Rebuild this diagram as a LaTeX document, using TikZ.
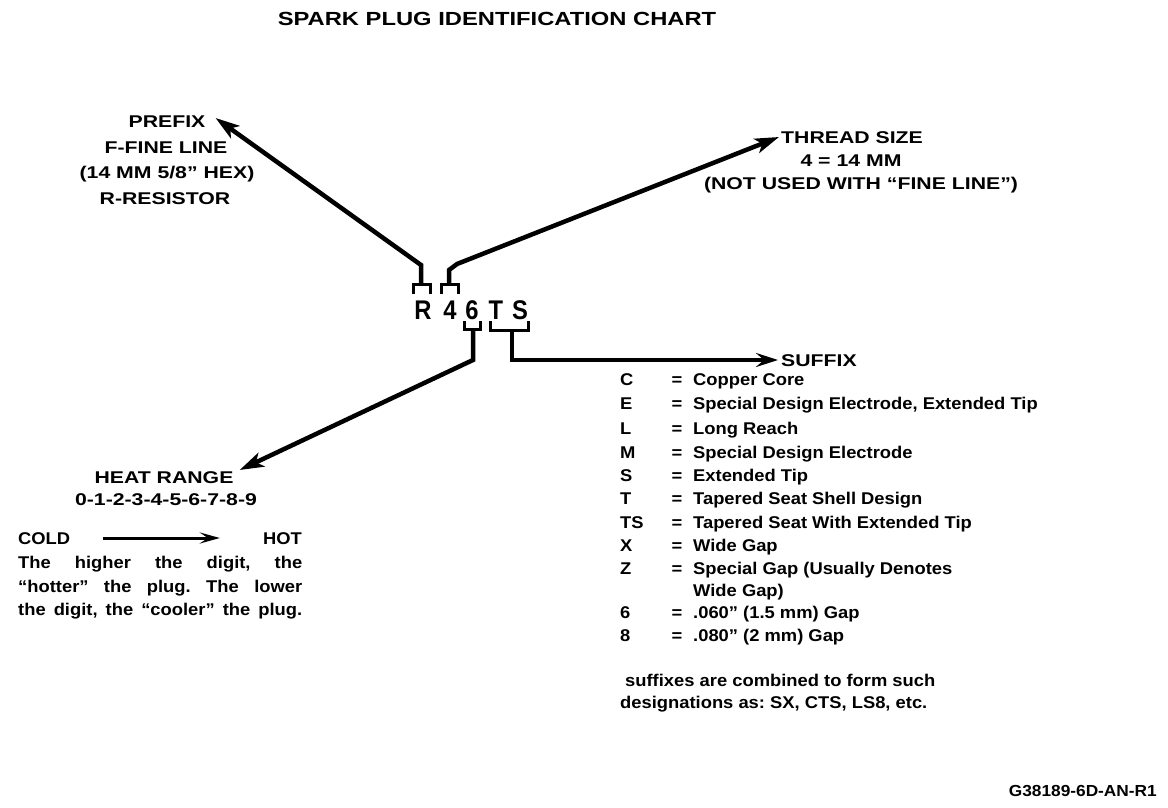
\documentclass[tikz,border=0pt]{standalone}
\usepackage{fontspec}
\setmainfont{Liberation Sans}[FakeStretch=1.08]
\newfontfamily\widefont{Liberation Sans}[FakeStretch=1.25,Ligatures=TeX]
\newfontfamily\codefont{Liberation Sans}[FakeStretch=0.88]
\usetikzlibrary{arrows.meta}
\tikzset{plugchart/.style={x=1pt,y=-1pt,inner sep=0pt},
  ttl/.style={font=\widefont\bfseries\fontsize{19}{21}\selectfont,text height=13.6pt,text depth=0pt},
  head/.style={font=\widefont\bfseries\fontsize{17}{20}\selectfont,text height=12.2pt,text depth=0pt},
  tab/.style={font=\bfseries\fontsize{17}{20}\selectfont,text height=12.2pt,text depth=0pt},
  code/.style={font=\codefont\bfseries\fontsize{27}{30}\selectfont,text height=19.4pt,text depth=0pt},
  bigarrow/.style={line width=4.5pt,-{Stealth[length=24pt,width=15pt,inset=6pt]}},
  sufarrow/.style={line width=4pt,-{Stealth[length=22pt,width=14pt,inset=8pt]}},
  smallarrow/.style={line width=3pt,-{Stealth[length=20pt,width=11pt,inset=8pt]}},
  bracket/.style={line width=3pt}}

\begin{document}
\frenchspacing
\begin{tikzpicture}[plugchart]
  \useasboundingbox (0,0) rectangle (1168,808);
  \node[ttl] (title) at (497,19) {SPARK PLUG IDENTIFICATION CHART};
  % prefix and thread size
  \node[head] (prefix) at (167,121) {PREFIX};
  \node[head] (prefixa) at (166,147) {F-FINE LINE};
  \node[head] (prefixb) at (167,172) {(14 MM 5/8" HEX)};
  \node[head] (prefixc) at (165,198) {R-RESISTOR};
  \node[head,anchor=west] (thread) at (781,137) {THREAD SIZE};
  \node[head] (threada) at (851,160) {4 = 14 MM};
  \node[head] (threadb) at (861,183) {(NOT USED WITH “FINE LINE”)};
  % the plug code
  \foreach \l/\x in {R/423,4/450,6/472,T/496,S/520}
    \node[code] (p\l) at (\x,310) {\l};
  \draw[bracket] (413,294) -- (413,284) -- (430,284) -- (430,294);
  \draw[bracket] (441,294) -- (441,284) -- (458,284) -- (458,294);
  \draw[bracket] (464,321) -- (464,329) -- (480,329) -- (480,321);
  \draw[bracket] (490,321) -- (490,330) -- (528,330) -- (528,321);
  \coordinate (rtop) at (421,284);
  \coordinate (ftop) at (449,284);
  \coordinate (sbot) at (473,329);
  \coordinate (tsbot) at (512,330);
  % heat range
  \node[head] (heat) at (164,477) {HEAT RANGE};
  \node[head] (heata) at (166,499) {0-1-2-3-4-5-6-7-8-9};
  \node[tab,anchor=west] (cold) at (18,538) {COLD};
  \node[tab,anchor=east] (hot) at (302,538) {HOT};
  \node[font=\bfseries\fontsize{17}{23.5}\selectfont,text width=284pt,align=justify,anchor=north west] (note) at (18,556)
    {The higher the digit, the\linebreak ``hotter'' the plug. The lower\linebreak the digit, the ``cooler'' the plug.{\parfillskip=0pt\par}};
  % suffix
  \node[head,anchor=west] (suffix) at (781,360) {SUFFIX};
  \foreach \k/\d/\y in {C/Copper Core/379, E/{Special Design Electrode, Extended Tip}/403,
      L/Long Reach/428, M/Special Design Electrode/452, S/Extended Tip/475,
      T/Tapered Seat Shell Design/498, TS/Tapered Seat With Extended Tip/522,
      X/Wide Gap/545, Z/Special Gap (Usually Denotes/568,
      6/.060" (1.5 mm) Gap/612, 8/.080" (2 mm) Gap/635} {
    \node[tab,anchor=west] (key\k) at (620,\y) {\k};
    \node[tab] (eq\k) at (677,\y) {=};
    \node[tab,anchor=west] (desc\k) at (693,\y) {\d};
  }
  \node[tab,anchor=west] (descZb) at (693,590) {Wide Gap)};
  \node[tab,anchor=west] (combine) at (625,680) {suffixes are combined to form such};
  \node[tab,anchor=west] (combinea) at (620,702) {designations as: SX, CTS, LS8, etc.};
  \node[tab,font=\bfseries\fontsize{16}{18}\selectfont,anchor=east] (code) at (1157,790) {G38189-6D-AN-R1};
  % arrows
  \draw[bigarrow] (rtop) -- ++(0,-19) -- ([xshift=10pt,yshift=3pt]prefix.east);
  \draw[bigarrow] (ftop) -- ++(0,-14) -- ++(8,-6) -- ([xshift=-2pt]thread.west);
  \draw[bigarrow] (sbot) -- ++(0,31) -- ([xshift=6pt,yshift=7pt]heat.east);
  \draw[sufarrow] (tsbot) |- ([xshift=-3pt]suffix.west);
  \draw[smallarrow] ([xshift=33pt]cold.east) -- ([xshift=-43pt]hot.west);
\end{tikzpicture}
\end{document}
